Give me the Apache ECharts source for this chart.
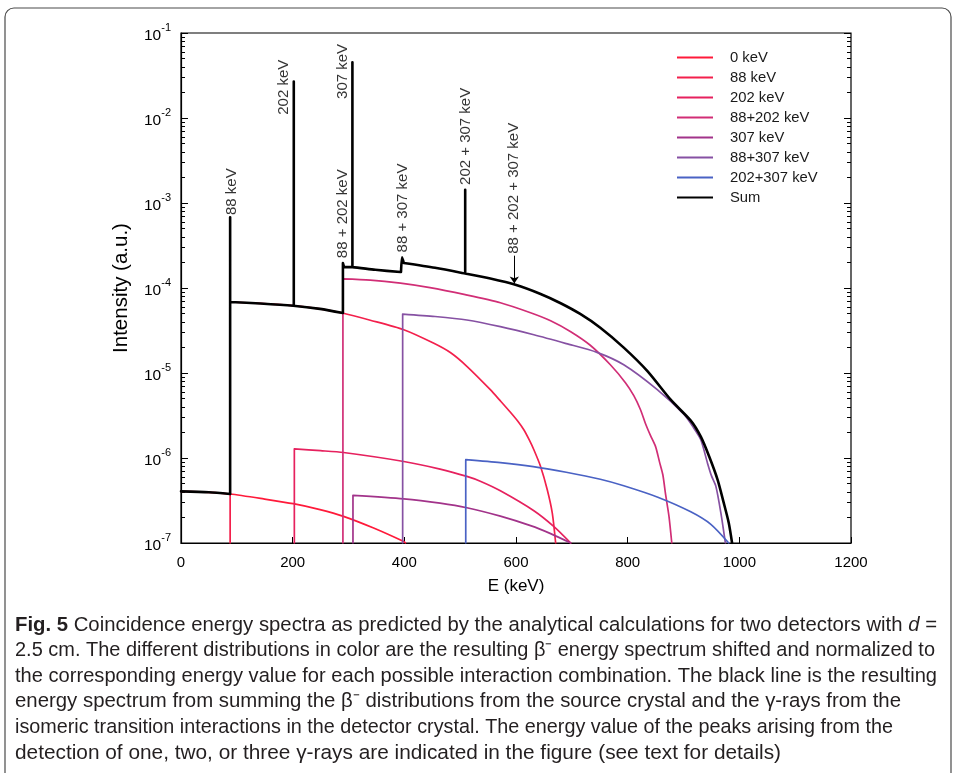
<!DOCTYPE html>
<html><head><meta charset="utf-8">
<script src="https://cdn.jsdelivr.net/npm/echarts@6/dist/echarts.min.js"></script>
<style>html,body{margin:0;padding:0;background:#fff;}#c{width:957px;height:773px;}</style>
</head><body><div id="c"></div>
<script>
// ---- data ----
const SERIES_NAMES = ['0 keV','88 keV','202 keV','88+202 keV','307 keV','88+307 keV','202+307 keV','Sum'];

const E_0 = [0, 50, 88, 148, 201, 249, 291, 345, 399, 402];
const V_0 = [4.05e-7, 3.95e-7, 3.77e-7, 3.3e-7, 2.9e-7, 2.47e-7, 2.06e-7, 1.5e-7, 1.04e-7, 1e-7];

const E_88 = [88, 88, 142, 201, 249, 289, 339, 399, 452, 483, 512, 554, 572, 590, 603, 614, 624, 632, 644, 656, 665, 671];
const V_88 = [1e-7, 6.84e-5, 6.58e-5, 6.19e-5, 5.68e-5, 5.08e-5, 4.18e-5, 3.23e-5, 2.25e-5, 1.73e-5, 1.2e-5, 6.37e-6, 4.7e-6, 3.45e-6, 2.72e-6, 2.15e-6, 1.62e-6, 1.25e-6, 7.96e-7, 4.24e-7, 2.25e-7, 1e-7];

const E_202 = [203, 203, 250, 291, 399, 464, 512, 536, 572, 632, 668, 698];
const V_202 = [1e-7, 1.28e-6, 1.22e-6, 1.16e-6, 9.1e-7, 7.41e-7, 6.08e-7, 5.34e-7, 4.12e-7, 2.4e-7, 1.56e-7, 1e-7];

const E_88_202 = [290, 290, 339, 393, 446, 509, 572, 626, 662, 698, 733, 769, 796, 811, 823, 832, 841, 850, 857, 863, 868, 874, 879];
const V_88_202 = [1e-7, 1.28e-4, 1.24e-4, 1.14e-4, 1.01e-4, 8.34e-5, 6.71e-5, 5.12e-5, 4.12e-5, 3.06e-5, 2.12e-5, 1.25e-5, 7.69e-6, 5.41e-6, 3.7e-6, 2.53e-6, 1.83e-6, 1.36e-6, 9.0e-7, 6.35e-7, 3.7e-7, 2.06e-7, 1e-7];

const E_307 = [308, 308, 399, 464, 512, 572, 626, 662, 698];
const V_307 = [1e-7, 3.63e-7, 3.3e-7, 2.94e-7, 2.6e-7, 2.07e-7, 1.6e-7, 1.29e-7, 1e-7];

const E_88_307 = [397, 397, 455, 512, 572, 632, 690, 745, 793, 853, 901, 918, 931, 943, 950, 958, 967, 975];
const V_88_307 = [1e-7, 4.94e-5, 4.62e-5, 4.2e-5, 3.51e-5, 2.82e-5, 2.22e-5, 1.75e-5, 1.25e-5, 6.37e-6, 3.25e-6, 2.27e-6, 1.64e-6, 8.7e-7, 6.2e-7, 4.64e-7, 2.25e-7, 1e-7];

const E_202_307 = [510, 510, 572, 631, 690, 751, 793, 854, 913, 949, 981];
const V_202_307 = [1e-7, 9.55e-7, 8.8e-7, 7.9e-7, 6.8e-7, 5.63e-7, 4.72e-7, 3.46e-7, 2.33e-7, 1.66e-7, 1e-7];

// Sum: null entries separate the drawn pieces (continuum pieces and the vertical peaks)
const E_SUM = [0, 50, 88, null,
  88, 88, null,
  88, 142, 201, 249, 290, null,
  202, 202, null,
  290, 290, 292, null,
  292, 307, 348, 393, null,
  307, 307, null,
  394, 396, 399, null,
  399, 455, 509, 554, 599, 644, 680, 715, 751, 793, 835, 877, 913, 931, 946, 961, 972, 981, 987, null,
  509, 509];
const V_SUM = [4.05e-7, 3.95e-7, 3.77e-7, null,
  3.77e-7, 6.8e-4, null,
  6.84e-5, 6.58e-5, 6.19e-5, 5.68e-5, 5.08e-5, null,
  6.19e-5, 2.69e-2, null,
  5.08e-5, 1.96e-4, 1.77e-4, null,
  1.77e-4, 1.76e-4, 1.64e-4, 1.54e-4, null,
  1.76e-4, 4.53e-2, null,
  1.54e-4, 2.29e-4, 1.97e-4, null,
  1.97e-4, 1.73e-4, 1.48e-4, 1.29e-4, 1.09e-4, 8.5e-5, 6.62e-5, 4.95e-5, 3.41e-5, 1.99e-5, 1.06e-5, 4.85e-6, 2.75e-6, 1.78e-6, 1.04e-6, 5.56e-7, 2.98e-7, 1.73e-7, 1e-7, null,
  1.48e-4, 1.43e-3];

const ANN_TEXT = ['88 keV', '202 keV', '307 keV', '88 + 202 keV', '88 + 307 keV', '202 + 307 keV', '88 + 202 + 307 keV'];
const ANN_E = [91, 185, 290, 290, 397, 511, 597];
const ANN_V = [1.36e-3, 2.3e-2, 3.53e-2, 7.48e-4, 8.73e-4, 6.08e-3, 1.49e-3];
const ARROW_E = [597, 597];
const ARROW_V = [2.4e-4, 1.13e-4];

const X_TICKS = [0, 200, 400, 600, 800, 1000, 1200];
const Y_MAJOR = [1e-7, 1e-6, 1e-5, 1e-4, 1e-3, 1e-2, 1e-1];
const Y_MINOR_MULT = [2, 3, 4, 5, 6, 7, 8, 9];

const CAPTION = [
  [{t:'Fig. 5', s:'bold'}, {t:' Coincidence energy spectra as predicted by the analytical calculations for two detectors with ', s:'n'}, {t:'d', s:'it'}, {t:' =', s:'n'}],
  [{t:'2.5 cm. The different distributions in color are the resulting \u03B2\u207B energy spectrum shifted and normalized to', s:'n'}],
  [{t:'the corresponding energy value for each possible interaction combination. The black line is the resulting', s:'n'}],
  [{t:'energy spectrum from summing the \u03B2\u207B distributions from the source crystal and the \u03B3-rays from the', s:'n'}],
  [{t:'isomeric transition interactions in the detector crystal. The energy value of the peaks arising from the', s:'n'}],
  [{t:'detection of one, two, or three \u03B3-rays are indicated in the figure (see text for details)', s:'n'}]
];
const CAPTION_RIGHT = [937, 935, 937, 901, 893, 781];

// ---- build ----
const zip = (a, b) => a.map((x, i) => (x === null ? null : [x, b[i]]));
// component curves: vertical start edge drawn as its own piece, then the smooth continuum
function withEdge(pts) {
  if (pts.length > 1 && pts[0][0] === pts[1][0]) return [pts[0], pts[1], null].concat(pts.slice(1));
  return pts;
}
const COLORS = ['#ff1a3a', '#f3204c', '#e6215e', '#d12e76', '#a2338a', '#8651a3', '#4a62c4', '#000000'];
const DATA = [zip(E_0, V_0), zip(E_88, V_88), zip(E_202, V_202), zip(E_88_202, V_88_202), zip(E_307, V_307), zip(E_88_307, V_88_307), zip(E_202_307, V_202_307)].map(withEdge);
DATA.push(zip(E_SUM, V_SUM));
const Y_MINOR = [];
Y_MAJOR.slice(0, -1).forEach(d => Y_MINOR_MULT.forEach(m => Y_MINOR.push(d * m)));

const FONT = '"Liberation Sans", Arial, sans-serif';
const series = SERIES_NAMES.map((n, i) => ({
  name: n, type: 'line', data: DATA[i], showSymbol: false, symbol: 'none', clip: true,
  smooth: 0.25, connectNulls: false,
  lineStyle: {color: COLORS[i], width: i === 7 ? 2.6 : 1.7, cap: 'round', join: 'round'}, itemStyle: {color: COLORS[i]},
  z: i === 7 ? 5 : 3, animation: false
}));
series.push({
  name: 'ann', type: 'scatter', symbolSize: 0, silent: true, animation: false,
  data: ANN_TEXT.map((t, i) => ({value: [ANN_E[i], ANN_V[i]], name: t})),
  label: {show: true, position: 'inside', rotate: 90, formatter: p => p.name, color: '#000', fontSize: 15, fontFamily: FONT},
  markLine: {
    silent: true, animation: false, symbol: ['none', 'arrow'], symbolSize: 7,
    lineStyle: {color: '#000', width: 1, type: 'solid'}, label: {show: false},
    data: [[{coord: [ARROW_E[0], ARROW_V[0]]}, {coord: [ARROW_E[1], ARROW_V[1]]}]]
  }
});

function yLab(v) {
  const e = Math.round(Math.log10(v));
  return '{b|10}{s|' + e + '}';
}
const logAxisBase = {type: 'log', logBase: 10, min: 1e-7, max: 1e-1, splitLine: {show: false}, minorTick: {show: false}};

const chart = echarts.init(document.getElementById('c'), null, {renderer: 'canvas'});

// caption: condensed look obtained by horizontally scaling each line to the reference line length
const CAP_FONT_SIZE = 20.5;
const CAP_FAMILY = '"Liberation Sans Narrow", "Liberation Sans", Arial, sans-serif';
const cv = document.createElement('canvas').getContext('2d');
function segFont(s) {
  return (s === 'bold' ? 'bold ' : s === 'it' ? 'italic ' : '') + CAP_FONT_SIZE + 'px ' + CAP_FAMILY;
}
const ratios = CAPTION.map((line, i) => {
  let w = 0;
  line.forEach(sg => { cv.font = segFont(sg.s); w += cv.measureText(sg.t).width; });
  return (CAPTION_RIGHT[i] - 15) / w;
});

const captionGraphics = CAPTION.map((line, i) => ({
  type: 'text', x: 15, y: 625 + i * 25.6, scaleX: ratios[i], scaleY: 1, originX: 0, originY: 0,
  silent: true,
  style: {
    text: line.map(sg => '{' + sg.s + '|' + sg.t + '}').join(''),
    verticalAlign: 'middle', fill: '#231f20',
    font: CAP_FONT_SIZE + 'px ' + CAP_FAMILY,
    rich: {
      bold: {fontWeight: 'bold', fontSize: CAP_FONT_SIZE, fontFamily: CAP_FAMILY, fill: '#231f20'},
      it: {fontStyle: 'italic', fontSize: CAP_FONT_SIZE, fontFamily: CAP_FAMILY, fill: '#231f20'},
      n: {fontSize: CAP_FONT_SIZE, fontFamily: CAP_FAMILY, fill: '#231f20'}
    }
  }
}));

chart.setOption({
  animation: false,
  backgroundColor: '#fff',
  grid: {left: 181, right: 106, top: 33, bottom: 230, show: true, borderColor: '#000', borderWidth: 1.2, backgroundColor: 'transparent'},
  legend: {
    data: SERIES_NAMES, orient: 'vertical', left: 672, top: 45, icon: 'rect',
    itemWidth: 36, itemHeight: 2, itemGap: 5,
    textStyle: {fontSize: 14.8, fontFamily: FONT, color: '#1a1a1a', lineHeight: 15, padding: [0, 0, 0, 12]},
    selectedMode: false
  },
  xAxis: [{
    type: 'value', min: 0, max: 1200, interval: 200,
    axisLine: {show: true, lineStyle: {color: '#000', width: 1.2}},
    axisTick: {show: true, inside: true, length: 6, lineStyle: {color: '#000', width: 1}, customValues: X_TICKS},
    axisLabel: {color: '#000', fontSize: 15, fontFamily: FONT, margin: 12, customValues: X_TICKS, formatter: v => String(v)},
    splitLine: {show: false},
    name: 'E (keV)', nameLocation: 'middle', nameGap: 35,
    nameTextStyle: {fontSize: 17, fontFamily: FONT, color: '#000'}
  }],
  yAxis: [
    Object.assign({}, logAxisBase, {
      position: 'left',
      axisLine: {show: true, lineStyle: {color: '#000', width: 1.2}},
      axisTick: {show: true, inside: true, length: 7, lineStyle: {color: '#000'}, customValues: Y_MAJOR},
      axisLabel: {show: true, customValues: Y_MAJOR, formatter: yLab, margin: 10,
        rich: {b: {fontSize: 15.5, fontFamily: FONT, color: '#000', verticalAlign: 'bottom', lineHeight: 22},
               s: {fontSize: 11, fontFamily: FONT, color: '#000', verticalAlign: 'top', lineHeight: 22}}},
      name: 'Intensity (a.u.)', nameLocation: 'middle', nameGap: 49,
      nameTextStyle: {fontSize: 20.5, fontFamily: FONT, color: '#000'}
    }),
    Object.assign({}, logAxisBase, {
      position: 'left', axisLine: {show: false},
      axisTick: {show: true, inside: true, length: 4, lineStyle: {color: '#000'}, customValues: Y_MINOR},
      axisLabel: {show: false}
    }),
    Object.assign({}, logAxisBase, {
      position: 'right', axisLine: {show: false},
      axisTick: {show: true, inside: true, length: 7, lineStyle: {color: '#000'}, customValues: Y_MAJOR},
      axisLabel: {show: false}
    }),
    Object.assign({}, logAxisBase, {
      position: 'right', axisLine: {show: false},
      axisTick: {show: true, inside: true, length: 4, lineStyle: {color: '#000'}, customValues: Y_MINOR},
      axisLabel: {show: false}
    })
  ],
  graphic: [{
    type: 'rect', shape: {x: 5, y: 8, width: 946, height: 790, r: 9}, silent: true,
    style: {fill: 'none', stroke: '#4a4a4a', lineWidth: 1.2}
  }].concat(captionGraphics),
  series: series
});
</script></body></html>
